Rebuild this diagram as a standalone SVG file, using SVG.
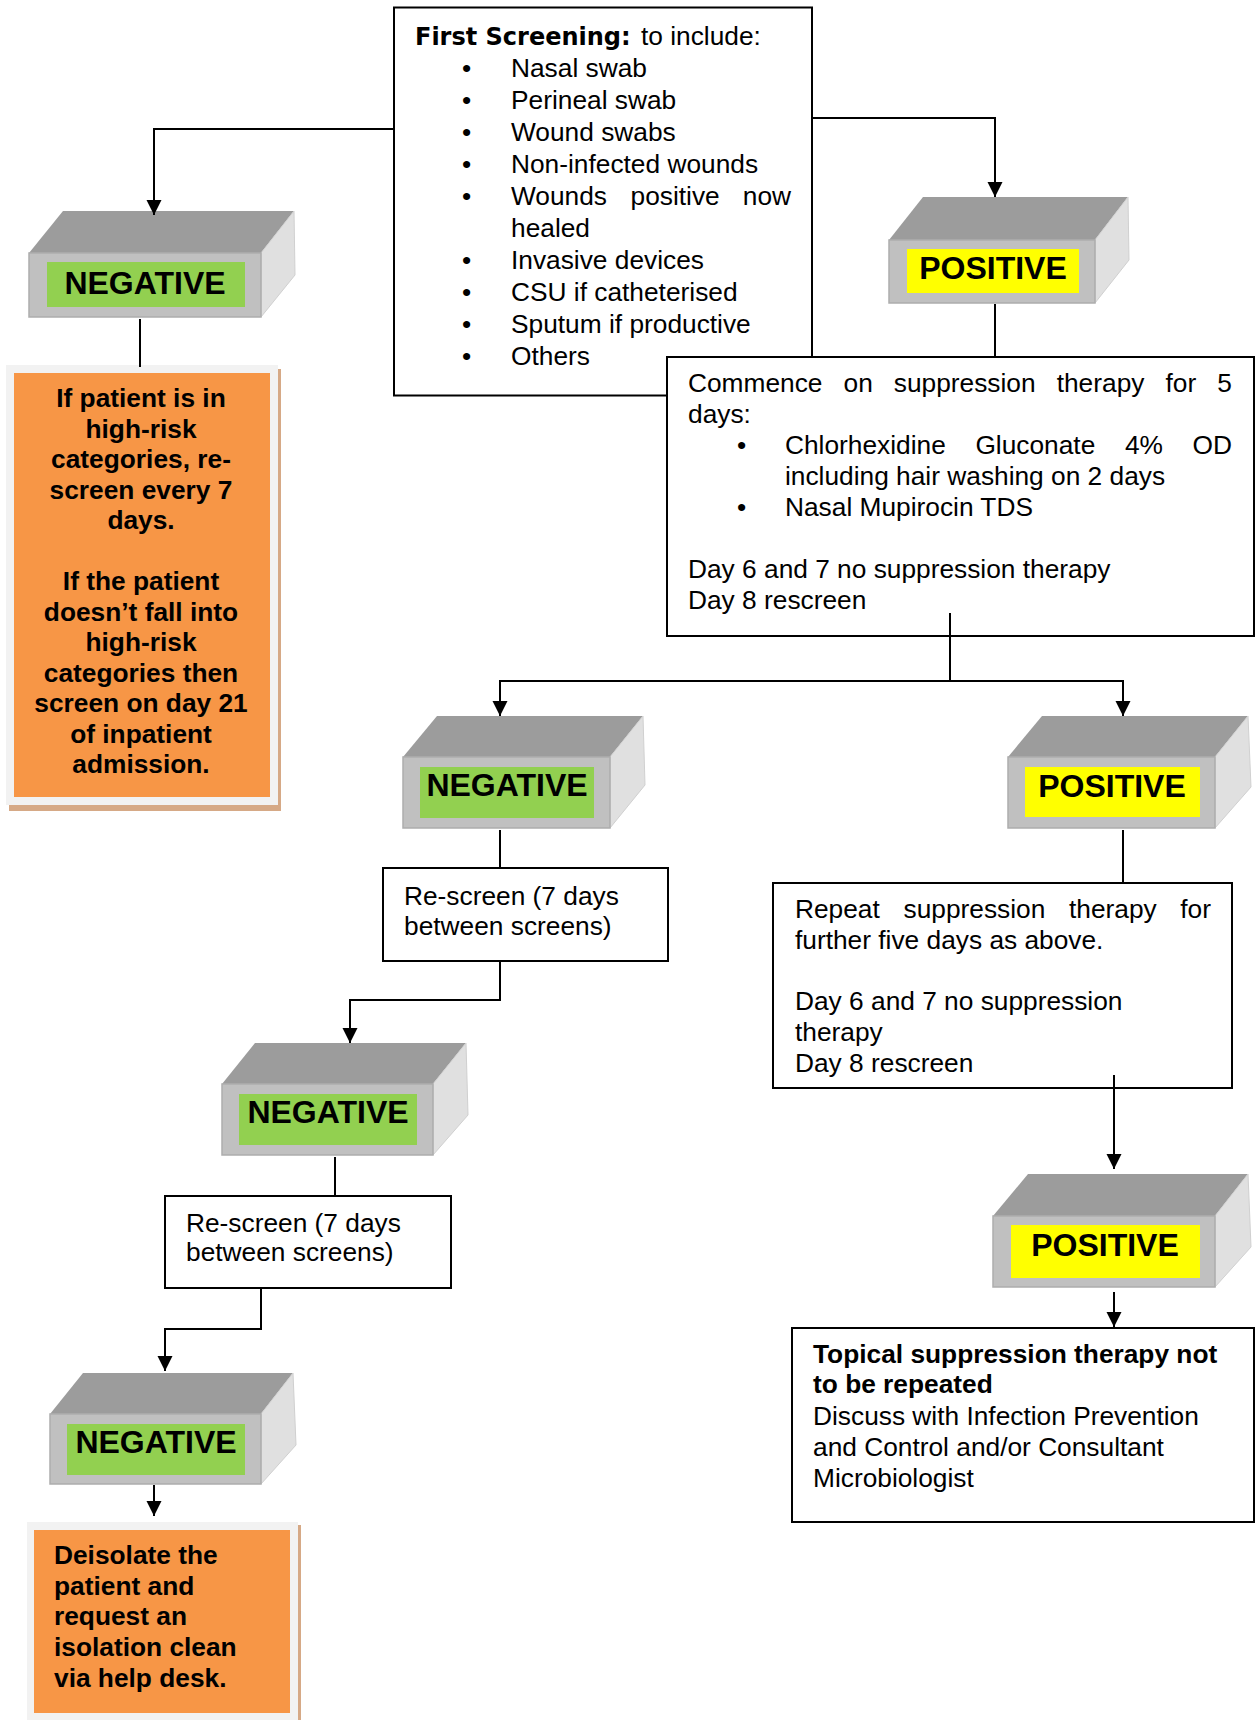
<svg xmlns="http://www.w3.org/2000/svg" width="1256" height="1720" viewBox="0 0 1256 1720">
<style>
  .t { font-family: "Liberation Sans", Arial, sans-serif; font-size: 26.3px; fill: #000; }
  .b { font-family: "Liberation Sans", Arial, sans-serif; font-size: 26.3px; font-weight: bold; fill: #000; }
  .lab { font-family: "Liberation Sans", Arial, sans-serif; font-size: 32px; font-weight: bold; fill: #000; text-anchor: middle; }
  .box { fill: #fff; stroke: #000; stroke-width: 2; }
  .front { fill: #C0C0C0; stroke: #ADADAD; stroke-width: 1.5; }
  .top { fill: #9C9C9C; }
  .side { fill: #E0E0E0; stroke: #D0D0D0; stroke-width: 1; }
  .neg { fill: #92D050; }
  .pos { fill: #FFFF00; }
  .conn path { fill: none; stroke: #000; stroke-width: 2; }
  .shadow { fill: #D6A986; }
  .frame { fill: #F2F2F2; }
  .orange { fill: #F79646; }
</style>
<defs>
  <marker id="arr" markerUnits="userSpaceOnUse" markerWidth="16" markerHeight="16" refX="15" refY="7.5" orient="auto">
    <path d="M0,0 L15,7.5 L0,15 z" fill="#000"/>
  </marker>
</defs>
<rect width="1256" height="1720" fill="#fff"/>

<g id="first-screening">
  <rect class="box" x="394" y="7.5" width="418" height="388"/>
  <text x="415" y="45"><tspan style="font-family:'DejaVu Sans',Verdana,sans-serif;font-weight:bold;font-size:24px">First Screening:</tspan></text>
  <text class="t" x="641" y="45">to include:</text>
  <g class="t">
    <text x="462" y="77">•</text><text x="511" y="77">Nasal swab</text>
    <text x="462" y="109">•</text><text x="511" y="109">Perineal swab</text>
    <text x="462" y="141">•</text><text x="511" y="141">Wound swabs</text>
    <text x="462" y="173">•</text><text x="511" y="173">Non-infected wounds</text>
    <text x="462" y="205">•</text><text x="511" y="205">Wounds</text><text x="630.5" y="205">positive</text><text x="791" y="205" text-anchor="end">now</text>
    <text x="511" y="237">healed</text>
    <text x="462" y="269">•</text><text x="511" y="269">Invasive devices</text>
    <text x="462" y="301">•</text><text x="511" y="301">CSU if catheterised</text>
    <text x="462" y="333">•</text><text x="511" y="333">Sputum if productive</text>
    <text x="462" y="365">•</text><text x="511" y="365">Others</text>
  </g>
</g>

<g id="negative-1">
  <polygon class="top" points="29,253 63,211 294,211 261,253"/>
  <polygon class="side" points="261,253 294,211 295,275 261,317"/>
  <rect class="front" x="29" y="253" width="232" height="64"/>
  <rect class="neg" x="47" y="262" width="198" height="45"/>
  <text class="lab" x="145" y="294">NEGATIVE</text>
</g>

<g id="positive-1">
  <polygon class="top" points="889,240 923,197 1128,197 1095,240"/>
  <polygon class="side" points="1095,240 1128,197 1129,260 1095,303"/>
  <rect class="front" x="889" y="240" width="206" height="63"/>
  <rect class="pos" x="907" y="249" width="172" height="44"/>
  <text class="lab" x="993" y="279">POSITIVE</text>
</g>

<g id="high-risk-note">
  <rect class="shadow" x="9" y="369" width="272" height="442"/>
  <rect class="frame" x="6" y="365" width="272" height="440"/>
  <rect class="orange" x="14" y="373" width="256" height="424"/>
  <g class="b" text-anchor="middle">
    <text x="141" y="407">If patient is in</text>
    <text x="141" y="437.5">high-risk</text>
    <text x="141" y="468">categories, re-</text>
    <text x="141" y="498.5">screen every 7</text>
    <text x="141" y="529">days.</text>
    <text x="141" y="590">If the patient</text>
    <text x="141" y="620.5">doesn’t fall into</text>
    <text x="141" y="651">high-risk</text>
    <text x="141" y="681.5">categories then</text>
    <text x="141" y="712">screen on day 21</text>
    <text x="141" y="742.5">of inpatient</text>
    <text x="141" y="773">admission.</text>
  </g>
</g>

<g id="commence-therapy">
  <rect class="box" x="667" y="357" width="587" height="279"/>
  <g class="t">
    <text x="688" y="392">Commence</text><text x="843.5" y="392">on</text><text x="893.8" y="392">suppression</text><text x="1056.7" y="392">therapy</text><text x="1165.5" y="392">for</text><text x="1232" y="392" text-anchor="end">5</text>
    <text x="688" y="423">days:</text>
    <text x="737" y="454">•</text><text x="785" y="454">Chlorhexidine</text><text x="975.4" y="454">Gluconate</text><text x="1124.9" y="454">4%</text><text x="1232" y="454" text-anchor="end">OD</text>
    <text x="785" y="485">including hair washing on 2 days</text>
    <text x="737" y="516">•</text><text x="785" y="516">Nasal Mupirocin TDS</text>
    <text x="688" y="578">Day 6 and 7 no suppression therapy</text>
    <text x="688" y="609">Day 8 rescreen</text>
  </g>
</g>

<g id="negative-2">
  <polygon class="top" points="403,757 437,716 643,716 610,757"/>
  <polygon class="side" points="610,757 643,716 645,785 610,828"/>
  <rect class="front" x="403" y="757" width="207" height="71"/>
  <rect class="neg" x="420" y="767" width="174" height="51"/>
  <text class="lab" x="507" y="796">NEGATIVE</text>
</g>

<g id="positive-2">
  <polygon class="top" points="1008,757 1042,716 1248,716 1215,757"/>
  <polygon class="side" points="1215,757 1248,716 1251,787 1215,828"/>
  <rect class="front" x="1008" y="757" width="207" height="71"/>
  <rect class="pos" x="1025" y="767" width="175" height="50"/>
  <text class="lab" x="1112" y="797">POSITIVE</text>
</g>

<g id="rescreen-1">
  <rect class="box" x="383" y="868" width="285" height="93"/>
  <text class="t" x="404" y="905">Re-screen (7 days</text>
  <text class="t" x="404" y="935">between screens)</text>
</g>

<g id="repeat-therapy">
  <rect class="box" x="773" y="883" width="459" height="205"/>
  <g class="t">
    <text x="795" y="918">Repeat</text><text x="903.5" y="918">suppression</text><text x="1069" y="918">therapy</text><text x="1211" y="918" text-anchor="end">for</text>
    <text x="795" y="948.8">further five days as above.</text>
    <text x="795" y="1010.4">Day 6 and 7 no suppression</text>
    <text x="795" y="1041.2">therapy</text>
    <text x="795" y="1072">Day 8 rescreen</text>
  </g>
</g>

<g id="negative-3">
  <polygon class="top" points="222,1084 255,1043 466,1043 433,1084"/>
  <polygon class="side" points="433,1084 466,1043 468,1115 433,1155"/>
  <rect class="front" x="222" y="1084" width="211" height="71"/>
  <rect class="neg" x="239" y="1094" width="178" height="51"/>
  <text class="lab" x="328" y="1123">NEGATIVE</text>
</g>

<g id="rescreen-2">
  <rect class="box" x="165" y="1196" width="286" height="92"/>
  <text class="t" x="186" y="1232">Re-screen (7 days</text>
  <text class="t" x="186" y="1261">between screens)</text>
</g>

<g id="positive-3">
  <polygon class="top" points="993,1216 1028,1174 1248,1174 1215,1216"/>
  <polygon class="side" points="1215,1216 1248,1174 1251,1247 1215,1287"/>
  <rect class="front" x="993" y="1216" width="222" height="71"/>
  <rect class="pos" x="1011" y="1225" width="189" height="53"/>
  <text class="lab" x="1105" y="1256">POSITIVE</text>
</g>

<g id="topical-note">
  <rect class="box" x="792" y="1328" width="462" height="194"/>
  <text class="b" x="813" y="1363">Topical suppression therapy not</text>
  <text class="b" x="813" y="1393">to be repeated</text>
  <text class="t" x="813" y="1425">Discuss with Infection Prevention</text>
  <text class="t" x="813" y="1456">and Control and/or Consultant</text>
  <text class="t" x="813" y="1487">Microbiologist</text>
</g>

<g id="negative-4">
  <polygon class="top" points="50,1414 83,1373 293,1373 261,1414"/>
  <polygon class="side" points="261,1414 293,1373 296,1445 261,1484"/>
  <rect class="front" x="50" y="1414" width="211" height="70"/>
  <rect class="neg" x="67" y="1424" width="178" height="51"/>
  <text class="lab" x="156" y="1453">NEGATIVE</text>
</g>

<g id="deisolate-note">
  <rect class="shadow" x="30" y="1525" width="271" height="200"/>
  <rect class="frame" x="27" y="1522" width="271" height="200"/>
  <rect class="orange" x="34" y="1530" width="256" height="183"/>
  <g class="b">
    <text x="54" y="1564">Deisolate the</text>
    <text x="54" y="1595">patient and</text>
    <text x="54" y="1625">request an</text>
    <text x="54" y="1656">isolation clean</text>
    <text x="54" y="1687">via help desk.</text>
  </g>
</g>

<g id="connectors" class="conn">
  <path d="M394,129 H154 V215" marker-end="url(#arr)"/>
  <path d="M812,118 H995 V197" marker-end="url(#arr)"/>
  <path d="M140,319 V367"/>
  <path d="M995,304 V357"/>
  <path d="M950,613 V681"/>
  <path d="M950,681 H500 V716" marker-end="url(#arr)"/>
  <path d="M950,681 H1123 V716" marker-end="url(#arr)"/>
  <path d="M500,830 V868"/>
  <path d="M1123,830 V883"/>
  <path d="M500,961 V1000 H350 V1043" marker-end="url(#arr)"/>
  <path d="M335,1157 V1196"/>
  <path d="M261,1288 V1329 H165 V1371" marker-end="url(#arr)"/>
  <path d="M154,1485 V1516" marker-end="url(#arr)"/>
  <path d="M1114,1075 V1169" marker-end="url(#arr)"/>
  <path d="M1114,1292 V1327" marker-end="url(#arr)"/>
</g>
</svg>
